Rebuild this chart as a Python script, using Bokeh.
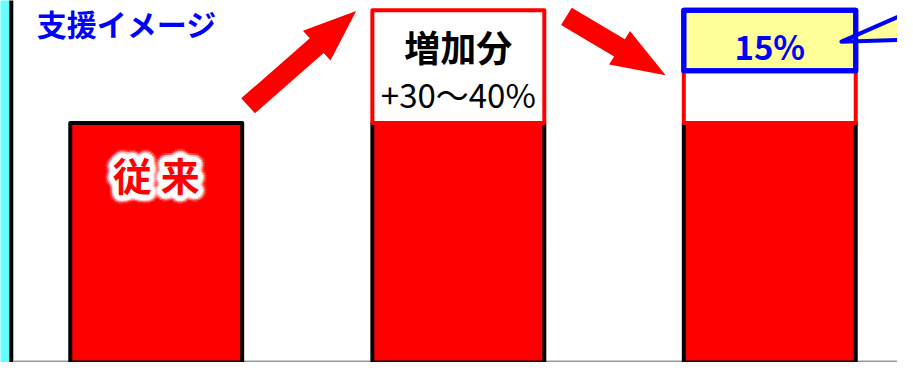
from bokeh.plotting import figure
from bokeh.models import Range1d
from bokeh.core.properties import value
from bokeh.embed import file_html
from bokeh.resources import INLINE
import math

# ---------------- data ----------------
categories = ["従来", "増加分", "15%"]
base_values = [100, 100, 100]          # red bars (従来 level)
increase_top = 147.5                   # top of the 増加分 box on bar 2
bar3_white_top = 122.0                 # top of the white segment on bar 3
bar3_yellow_top = 147.5                # top of the yellow 15% box on bar 3
title_text = "支援イメージ"
increase_label = "増加分"
increase_range_label = "+30～40%"
subsidy_label = "15%"

# ---------------- layout ----------------
PX_PER_UNIT = 2.48
BASE_PX = 376
def v(ypx):
    return (BASE_PX - ypx) / PX_PER_UNIT

bar_centers = [158.5, 466, 783]
bar_width = 175
FONT = value("Noto Sans CJK JP")
RED = "#FF0000"
BLUE = "#0000FF"
YELLOW = "#FFFF99"

p = figure(width=897, height=362, output_backend="svg", toolbar_location=None,
           x_range=Range1d(0, 913), y_range=Range1d(v(378), v(0)),
           x_axis_location=None, y_axis_location=None, min_border=0,
           outline_line_color=None, background_fill_color="white",
           border_fill_color="white")
p.xgrid.grid_line_color = None
p.ygrid.grid_line_color = None

# left decoration strip and frame line
p.quad(left=[-5], right=[9], bottom=[v(420)], top=[v(-40)], fill_color="#66FFFF", line_color=None)
p.segment(x0=[11], x1=[11], y0=[v(420)], y1=[v(-40)], line_color="black", line_width=4)
p.segment(x0=[13], x1=[960], y0=[v(377)], y1=[v(377)], line_color="#9a9a9a", line_width=2)

# red bars
p.vbar(x=bar_centers, width=bar_width, bottom=v(400), top=base_values,
       fill_color=RED, line_color="black", line_width=4, line_join="round")

# bar 2 increase box
p.vbar(x=[bar_centers[1]], width=bar_width, bottom=[base_values[1]], top=[increase_top],
       fill_color="white", line_color=RED, line_width=4, line_join="round")

# bar 3 segments
p.vbar(x=[bar_centers[2]], width=bar_width, bottom=[base_values[2]], top=[bar3_white_top],
       fill_color="white", line_color=RED, line_width=4, line_join="round")
p.vbar(x=[bar_centers[2]], width=bar_width, bottom=[bar3_white_top], top=[bar3_yellow_top],
       fill_color=YELLOW, line_color=BLUE, line_width=5, line_join="round")

# callout pointer
tip = (856, 43)
upper_end = (960, -4)
lower_end = (960, 40)
p.patch(x=[tip[0], upper_end[0], lower_end[0]], y=[v(tip[1]), v(upper_end[1]), v(lower_end[1])],
        fill_color=YELLOW, line_color=None)
p.vbar(x=[bar_centers[2]], width=bar_width, bottom=[bar3_white_top], top=[bar3_yellow_top],
       fill_color=None, line_color=BLUE, line_width=5, line_join="round")
p.multi_line(xs=[[upper_end[0], tip[0], lower_end[0]]],
             ys=[[v(upper_end[1]), v(tip[1]), v(lower_end[1])]],
             line_color=BLUE, line_width=4, line_join="round", line_cap="round")

# arrows (tail, tip, shaft width, head width, head length) in reference px
arrows = [((252, 110), (362, 11), 21, 42, 54),
          ((576, 16.5), (677, 78), 21, 41, 55)]
for (tx, ty), (px_, py_), ws, wh, lh in arrows:
    dx, dy = px_ - tx, py_ - ty
    L = math.hypot(dx, dy)
    ux, uy = dx / L, dy / L
    nx, ny = -uy, ux
    bx, by = px_ - ux * lh, py_ - uy * lh
    pts = [(tx + nx * ws / 2, ty + ny * ws / 2),
           (bx + nx * ws / 2, by + ny * ws / 2),
           (bx + nx * wh / 2, by + ny * wh / 2),
           (px_, py_),
           (bx - nx * wh / 2, by - ny * wh / 2),
           (bx - nx * ws / 2, by - ny * ws / 2),
           (tx - nx * ws / 2, ty - ny * ws / 2)]
    p.patch(x=[a for a, b in pts], y=[v(b) for a, b in pts], fill_color=RED, line_color=None)

# title (kept fully inside the frame)
p.text(x=[37], y=[v(23)], text=[title_text], text_font=FONT, text_font_size="30px",
       text_font_style="bold", text_color=BLUE, text_baseline="middle", text_align="left")

# 従来 with white glow
label0 = categories[0][0] + " " + categories[0][1]
for r, alpha in [(9, 0.15), (7, 0.35), (5, 0.8), (3.5, 1.0), (2, 1.0)]:
    for k in range(20):
        ang = 2 * math.pi * k / 20
        p.text(x=[bar_centers[0]], y=[v(181)], text=[label0], text_font=FONT,
               text_font_size="39px", text_font_style="bold", text_color="white",
               text_alpha=alpha, text_align="center", text_baseline="middle",
               x_offset=r * math.cos(ang), y_offset=r * math.sin(ang))
p.text(x=[bar_centers[0]], y=[v(181)], text=[label0], text_font=FONT,
       text_font_size="39px", text_font_style="bold", text_color=RED,
       text_align="center", text_baseline="middle")

# 増加分 labels
p.text(x=[bar_centers[1]], y=[v(47)], text=[increase_label], text_font=FONT,
       text_font_size="36px", text_font_style="bold", text_color="black",
       text_align="center", text_baseline="middle")
p.text(x=[bar_centers[1]], y=[v(98)], text=[increase_range_label], text_font=FONT,
       text_font_size="33px", text_color="black",
       text_align="center", text_baseline="middle")

# 15% label
p.text(x=[bar_centers[2]], y=[v(48)], text=[subsidy_label], text_font=FONT,
       text_font_size="33px", text_font_style="bold", text_color=BLUE,
       text_align="center", text_baseline="middle")

open("out.html", "w").write(file_html(p, INLINE))
